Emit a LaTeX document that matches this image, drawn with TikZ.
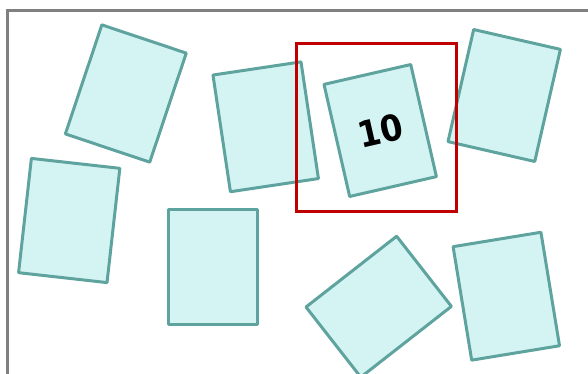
\documentclass[tikz,border=0pt]{standalone}
\usepackage{fontspec}
\newfontfamily\numfont{DejaVu Sans}
\definecolor{cardfill}{HTML}{D4F4F4}
\definecolor{carddraw}{HTML}{5FA39F}
\definecolor{framegray}{HTML}{808080}
\definecolor{hlred}{HTML}{C00000}
\tikzset{
  card/.style={draw=carddraw, fill=cardfill, line width=3pt, rectangle,
    minimum width=89pt, minimum height=115pt, inner sep=0pt, line join=round},
  framebox/.style={draw=framegray, line width=3pt},
  highlight/.style={draw=hlred, line width=3pt},
  cardlabel/.style={font=\numfont\bfseries\fontsize{36}{36}\selectfont, text=black}
}
\begin{document}
\begin{tikzpicture}[x=1pt,y=-1pt]
\useasboundingbox (0,0) rectangle (588,373);
\clip (0,0) rectangle (588,373);
\coordinate (f1) at (600,10);
\coordinate (f2) at (7.5,10);
\coordinate (f3) at (7.5,400);
\draw[framebox] (f1) -- (f2) -- (f3);
\node[card, rotate=-18.5] (ca) at (125.8,93.5) {};
\node[card, rotate=-6.4] (cb) at (69.2,220.5) {};
\node[card, rotate=0] (cc) at (213,266.7) {};
\node[card, rotate=8.5, minimum height=118pt] (cd) at (265.7,126.8) {};
\node[card, cardlabel, rotate=12.9] (ce) at (380.2,130.5) {\scalebox{0.9}[1]{10}};
\node[card, rotate=-12.9] (cf) at (504.2,95.5) {};
\node[card, rotate=-52] (cg) at (378.7,306.7) {};
\node[card, rotate=9.3] (ch) at (506.3,296.2) {};
\coordinate (r1) at (296.5,43.8);
\coordinate (r2) at (456.7,211.7);
\draw[highlight] (r1) rectangle (r2);
\end{tikzpicture}
\end{document}
